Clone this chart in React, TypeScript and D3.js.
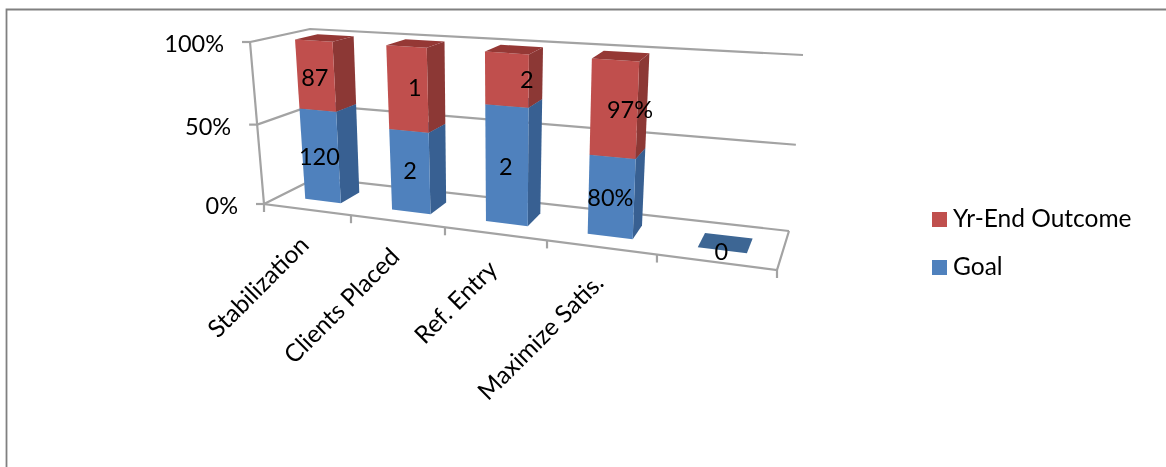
import React from "react";
import * as d3 from "d3";

const categories = ["Stabilization", "Clients Placed", "Ref. Entry", "Maximize Satis.", ""];
const goalShare = [0.575, 0.5, 0.695, 0.46, 0];
const outcomeShare = [0.425, 0.5, 0.305, 0.54, 0];
const goalLabels = ["120", "2", "2", "80%", "0"];
const outcomeLabels = ["87", "1", "2", "97%", ""];
const valueTicks = [0, 0.5, 1];
const legendItems = ["Yr-End Outcome", "Goal"];

const FONT = "Lato, Carlito, 'Open Sans', sans-serif";
const BLUE = { front: "#4f81bd", side: "#376092", top: "#3c6694" };
const RED = { front: "#c0504d", side: "#8c3836", top: "#953735" };
const GRID = "#a3a3a3";

// perspective scales of the 3-D box
const catT = d3.scaleLinear().domain([0, 1, 2, 3, 4, 5]).range([0, 0.1696, 0.3528, 0.5517, 0.766, 1]);
const valT = d3.scaleLinear().domain([0, 0.5, 1]).range([0, 0.49, 1]);

const FB0: [number, number] = [264, 204];
const FB1: [number, number] = [777, 270];
const FT0: [number, number] = [250, 42];
const FT1: [number, number] = [791, 79];
const BB0: [number, number] = [316, 178];
const BB1: [number, number] = [789, 231];
const BT0: [number, number] = [310, 29];
const BT1: [number, number] = [803, 55];

const mix = (a: [number, number], b: [number, number], t: number): [number, number] => [
  a[0] + (b[0] - a[0]) * t,
  a[1] + (b[1] - a[1]) * t,
];
// u: category position, v: cumulative share, d: depth 0 (front) .. 1 (back)
const project = (u: number, v: number, d: number): [number, number] => {
  const t = catT(u);
  const w = valT(v);
  const front = mix(mix(FB0, FB1, t), mix(FT0, FT1, t), w);
  const back = mix(mix(BB0, BB1, t), mix(BT0, BT1, t), w);
  return mix(front, back, d);
};
const line = d3.line();
const BAR_W = 0.21;
const D0 = 0.32;
const D1 = 0.71;

// label nudges relative to each segment's centre
const goalNudge: [number, number][] = [[-1, 0], [0, -1], [-1, 0], [-1, 0], [-1, 1]];
const outcomeNudge: [number, number][] = [[-1, 2], [7, -2], [20, -1], [16, 0], [0, 0]];

function Box({ u, v0, v1, color }: { u: number; v0: number; v1: number; color: typeof BLUE }) {
  const l = u + 0.5 - BAR_W;
  const r = u + 0.5 + BAR_W;
  const poly = (pts: [number, number][]) => line(pts)! + "Z";
  return (
    <g>
      {v1 > v0 && (
        <>
          <path d={poly([project(r, v0, D0), project(r, v0, D1), project(r, v1, D1), project(r, v1, D0)])} fill={color.side} />
          <path d={poly([project(l, v0, D0), project(r, v0, D0), project(r, v1, D0), project(l, v1, D0)])} fill={color.front} />
        </>
      )}
      <path d={poly([project(l, v1, D0), project(r, v1, D0), project(r, v1, D1), project(l, v1, D1)])} fill={color.top} />
    </g>
  );
}

export default function App() {
  const fs = 23.5;
  const fsText = 24.5;
  const depthLine = (v: number) =>
    line([project(0, v, 0), project(0, v, 1), project(5, v, 1)])!;
  return (
    <svg width={1166} height={467} style={{ position: "fixed", left: 0, top: 0, background: "#fff" }} fontFamily={FONT}>
      <defs>
        <filter id="soft" x="-2%" y="-2%" width="104%" height="104%">
          <feGaussianBlur stdDeviation="0.4" />
        </filter>
      </defs>
      <g filter="url(#soft)">
        {/* chart frame */}
        <path d="M6.5,467V9.5H1166" fill="none" stroke="#808080" strokeWidth={1.8} />

        {/* gridlines and walls */}
        <g fill="none" stroke={GRID} strokeWidth={2.2}>
          {valueTicks.map((v) => (
            <path key={v} d={depthLine(v)!} />
          ))}
          <path d={line([project(0, 1, 0), project(0, 0, 0), project(5, 0, 0), project(5, 0, 1)])!} />
          {valueTicks.map((v) => {
            const p = project(0, v, 0);
            return <path key={v} d={line([[p[0] - 8, p[1]], p])!} />;
          })}
          {d3.range(0, 6).map((u) => {
            const p = project(u, 0, 0);
            return <path key={u} d={line([p, [p[0], p[1] + 8]])!} />;
          })}
        </g>

        {/* bars */}
        {categories.map((_, i) => (
          <g key={i}>
            <Box u={i} v0={0} v1={goalShare[i]} color={BLUE} />
            {outcomeShare[i] > 0 && (
              <Box u={i} v0={goalShare[i]} v1={goalShare[i] + outcomeShare[i]} color={RED} />
            )}
          </g>
        ))}

        {/* data labels */}
        <g fontSize={fs} fill="#000" textAnchor="middle" dominantBaseline="central">
          {categories.map((_, i) => {
            const g = project(i + 0.5, goalShare[i] / 2, D0);
            const o = project(i + 0.5, goalShare[i] + outcomeShare[i] / 2, D0);
            return (
              <g key={i}>
                <text x={g[0] + goalNudge[i][0]} y={g[1] + goalNudge[i][1]}>{goalLabels[i]}</text>
                {outcomeLabels[i] && (
                  <text x={o[0] + outcomeNudge[i][0]} y={o[1] + outcomeNudge[i][1]}>{outcomeLabels[i]}</text>
                )}
              </g>
            );
          })}
        </g>

        {/* value axis labels */}
        <g fontSize={fs} fill="#000" textAnchor="end" dominantBaseline="central">
          {valueTicks.map((v) => {
            const p = project(0, v, 0);
            return (
              <text key={v} x={p[0] - 26} y={p[1] + 1}>
                {d3.format(".0%")(v)}
              </text>
            );
          })}
        </g>

        {/* category labels */}
        <g fontSize={fsText} fill="#000" textAnchor="end">
          {categories.map((c, i) => {
            const p = project(i + 0.5, 0, 0);
            return (
              <text key={i} transform={`translate(${p[0] + 3},${p[1] + 37}) rotate(-45)`}>
                {c}
              </text>
            );
          })}
        </g>

        {/* legend */}
        {legendItems.map((name, i) => (
          <g key={name} transform={`translate(932,${212 + i * 48})`}>
            <rect width={15} height={15} fill={i === 0 ? RED.front : BLUE.front} />
            <text x={21} y={15} fontSize={fsText} fill="#000">
              {name}
            </text>
          </g>
        ))}
      </g>
    </svg>
  );
}
